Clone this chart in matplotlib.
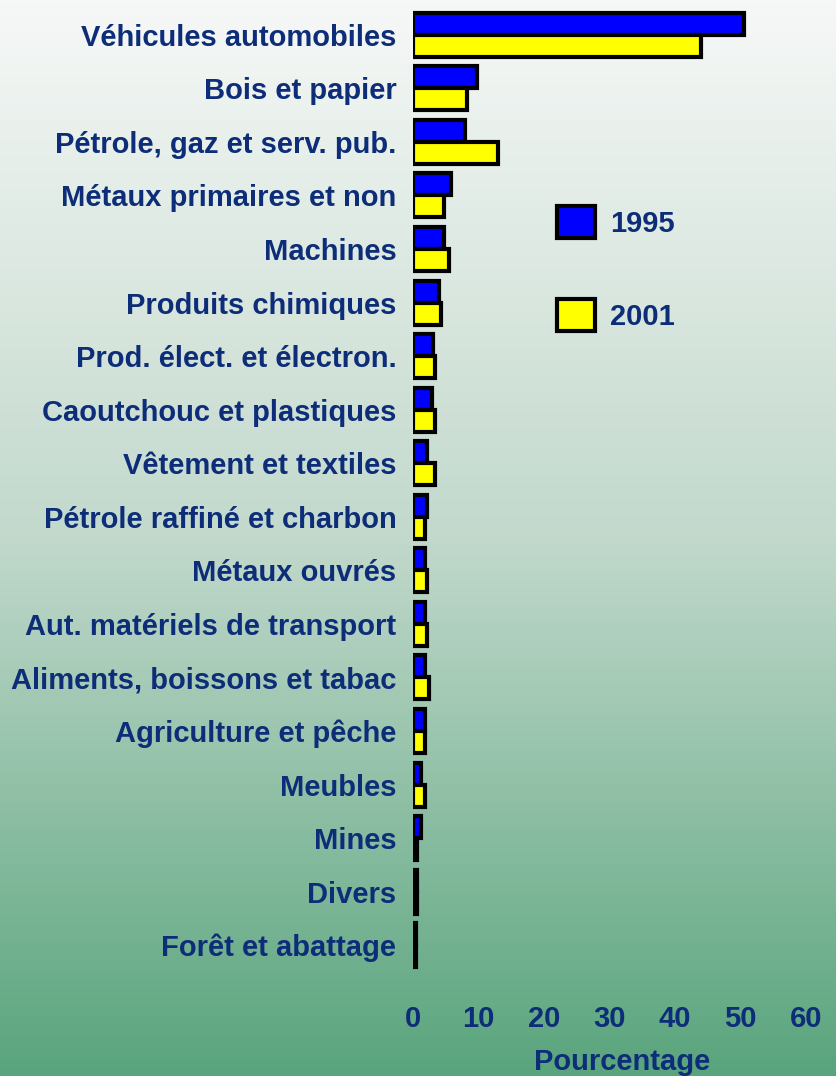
import numpy as np
import matplotlib.pyplot as plt
from matplotlib.patches import Patch

# === DATA ===
categories = [
    "Véhicules automobiles", "Bois et papier", "Pétrole, gaz et serv. pub.",
    "Métaux primaires et non", "Machines", "Produits chimiques",
    "Prod. élect. et électron.", "Caoutchouc et plastiques",
    "Vêtement et textiles", "Pétrole raffiné et charbon", "Métaux ouvrés",
    "Aut. matériels de transport", "Aliments, boissons et tabac",
    "Agriculture et pêche", "Meubles", "Mines", "Divers", "Forêt et abattage",
]
values_1995 = [50.6, 9.7, 7.9, 5.8, 4.8, 3.9, 3.0, 2.9, 2.1, 2.1, 1.9, 1.9, 1.9, 1.9, 1.2, 1.2, 0.6, 0.4]
values_2001 = [44.0, 8.2, 13.0, 4.8, 5.5, 4.2, 3.3, 3.3, 3.3, 1.9, 2.1, 2.1, 2.4, 1.9, 1.9, 0.6, 0.6, 0.4]
xticks = [0, 10, 20, 30, 40, 50, 60]

text_color = "#0d2d78"
fs = 21
plt.rcParams["font.family"] = ["Liberation Sans", "DejaVu Sans"]
plt.rcParams["font.weight"] = "bold"

fig = plt.figure(figsize=(8.36, 10.76), dpi=100)

# background gradient
bg = fig.add_axes([0, 0, 1, 1], zorder=-10)
top = np.array([0.965, 0.972, 0.968])
mid = np.array([0.76, 0.85, 0.80])
bot = np.array([0.35, 0.645, 0.49])
t = np.linspace(0, 1, 256)[:, None]
grad = np.where(t < 0.5,
                top + (mid - top) * (t / 0.5),
                mid + (bot - mid) * ((t - 0.5) / 0.5))
bg.imshow(grad[:, None, :], aspect="auto", extent=[0, 1, 0, 1])
bg.axis("off")

# main axes: x=0 at ~413 px, 60 at ~806 px
W, H = 836, 1076
ax = fig.add_axes([413 / W, 1 - 972 / H, (806 - 413) / W, (972 - 8) / H])
ax.patch.set_alpha(0)

y = np.arange(len(categories))
h = 0.41
ax.barh(y - h / 2, values_1995, h, color="#0000ff", edgecolor="black", linewidth=3, label="1995")
ax.barh(y + h / 2, values_2001, h, color="#ffff00", edgecolor="black", linewidth=3, label="2001")

ax.set_xlim(0, 60)
ax.set_ylim(len(categories) - 0.5, -0.5)
ax.set_yticks(y)
ax.set_yticklabels(categories)
ax.set_xticks(xticks)
for s in ax.spines.values():
    s.set_visible(False)
ax.tick_params(axis="both", length=0, colors=text_color, labelsize=fs)
ax.tick_params(axis="y", pad=12)
ax.tick_params(axis="x", pad=24)
for lab in ax.get_xticklabels() + ax.get_yticklabels():
    lab.set_fontweight("bold")
ax.set_xlabel("Pourcentage", color=text_color, fontsize=fs, fontweight="bold")
ax.xaxis.set_label_coords((622 - 413) / (806 - 413), -(1062 - 972) / (972 - 8), transform=ax.transAxes)
ax.xaxis.label.set_va("center")

handles = [Patch(facecolor="#0000ff", edgecolor="black", linewidth=3),
           Patch(facecolor="#ffff00", edgecolor="black", linewidth=3)]
leg = ax.legend(handles, ["1995", "2001"], loc="upper left",
                bbox_to_anchor=((531 - 413) / (806 - 413), 1 - (180 - 8) / (972 - 8)),
                frameon=False, prop={"size": fs, "weight": "bold"},
                handlelength=1.3, handleheight=1.3, labelspacing=2.1, handletextpad=0.5)
for txt in leg.get_texts():
    txt.set_color(text_color)

plt.savefig("out.png", dpi=100)
